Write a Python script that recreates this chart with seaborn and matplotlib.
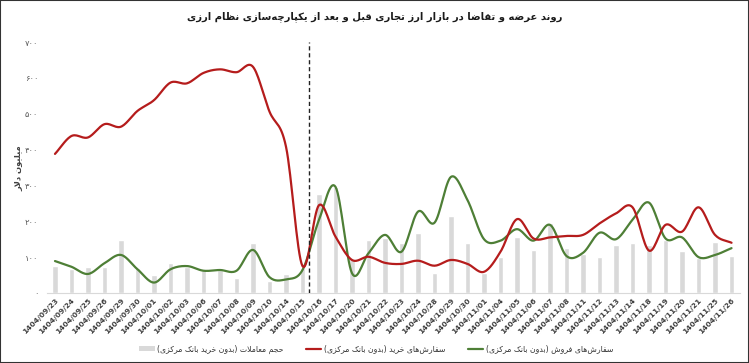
import numpy as np
import pandas as pd
import matplotlib
matplotlib.use("Agg")
import matplotlib.pyplot as plt
import seaborn as sns
from matplotlib.lines import Line2D
from matplotlib.patches import Patch, Rectangle

# ---------------- data ----------------
dates = ["1404/09/23", "1404/09/24", "1404/09/25", "1404/09/26", "1404/09/29", "1404/09/30",
         "1404/10/01", "1404/10/02", "1404/10/03", "1404/10/06", "1404/10/07", "1404/10/08",
         "1404/10/09", "1404/10/10", "1404/10/14", "1404/10/15", "1404/10/16", "1404/10/17",
         "1404/10/20", "1404/10/21", "1404/10/22", "1404/10/23", "1404/10/24", "1404/10/28",
         "1404/10/29", "1404/10/30", "1404/11/01", "1404/11/04", "1404/11/05", "1404/11/06",
         "1404/11/07", "1404/11/08", "1404/11/11", "1404/11/12", "1404/11/13", "1404/11/14",
         "1404/11/18", "1404/11/19", "1404/11/20", "1404/11/21", "1404/11/25", "1404/11/26"]

volume = [75, 67, 72, 73, 148, 69, 50, 83, 73, 64, 64, 41, 139, 32, 53, 70, 276, 296,
          95, 147, 152, 140, 168, 55, 215, 139, 55, 100, 155, 120, 196, 125, 110, 101,
          134, 140, 134, 149, 118, 98, 142, 104]

buy = [388, 438, 434, 471, 464, 508, 538, 587, 585, 614, 624, 616, 631, 506, 408, 75, 245,
       157, 92, 101, 84, 81, 90, 76, 92, 81, 59, 115, 206, 152, 155, 159, 162, 194, 222,
       239, 118, 190, 171, 239, 162, 140]

sell = [89, 73, 53, 83, 106, 66, 29, 66, 75, 62, 64, 62, 120, 44, 38, 64, 204, 296, 55,
        111, 162, 115, 227, 196, 324, 259, 150, 146, 178, 146, 190, 103, 112, 168, 150,
        204, 252, 152, 155, 100, 106, 125]

yticks = [0, 100, 200, 300, 400, 500, 600, 700]
split_pos = 15.4   # integration date marker (between 10/15 and 10/16)

title_txt = "روند عرضه و تقاضا در بازار ارز تجاری قبل و بعد از یکپارچه\u200cسازی نظام ارزی"
ylabel_txt = "میلیون دلار"
leg_vol = "حجم معاملات (بدون خرید بانک مرکزی)"
leg_buy = "سفارش\u200cهای خرید (بدون بانک مرکزی)"
leg_sell = "سفارش\u200cهای فروش (بدون بانک مرکزی)"

# ---------------- Persian shaping helper ----------------
FORMS = {  # isolated, final, initial, medial
    "\u0627": ("\uFE8D", "\uFE8E", None, None),
    "\u0628": ("\uFE8F", "\uFE90", "\uFE91", "\uFE92"),
    "\u062A": ("\uFE95", "\uFE96", "\uFE97", "\uFE98"),
    "\u062B": ("\uFE99", "\uFE9A", "\uFE9B", "\uFE9C"),
    "\u062C": ("\uFE9D", "\uFE9E", "\uFE9F", "\uFEA0"),
    "\u062D": ("\uFEA1", "\uFEA2", "\uFEA3", "\uFEA4"),
    "\u062E": ("\uFEA5", "\uFEA6", "\uFEA7", "\uFEA8"),
    "\u062F": ("\uFEA9", "\uFEAA", None, None),
    "\u0630": ("\uFEAB", "\uFEAC", None, None),
    "\u0631": ("\uFEAD", "\uFEAE", None, None),
    "\u0632": ("\uFEAF", "\uFEB0", None, None),
    "\u0633": ("\uFEB1", "\uFEB2", "\uFEB3", "\uFEB4"),
    "\u0634": ("\uFEB5", "\uFEB6", "\uFEB7", "\uFEB8"),
    "\u0635": ("\uFEB9", "\uFEBA", "\uFEBB", "\uFEBC"),
    "\u0636": ("\uFEBD", "\uFEBE", "\uFEBF", "\uFEC0"),
    "\u0637": ("\uFEC1", "\uFEC2", "\uFEC3", "\uFEC4"),
    "\u0638": ("\uFEC5", "\uFEC6", "\uFEC7", "\uFEC8"),
    "\u0639": ("\uFEC9", "\uFECA", "\uFECB", "\uFECC"),
    "\u063A": ("\uFECD", "\uFECE", "\uFECF", "\uFED0"),
    "\u0641": ("\uFED1", "\uFED2", "\uFED3", "\uFED4"),
    "\u0642": ("\uFED5", "\uFED6", "\uFED7", "\uFED8"),
    "\u0644": ("\uFEDD", "\uFEDE", "\uFEDF", "\uFEE0"),
    "\u0645": ("\uFEE1", "\uFEE2", "\uFEE3", "\uFEE4"),
    "\u0646": ("\uFEE5", "\uFEE6", "\uFEE7", "\uFEE8"),
    "\u0647": ("\uFEE9", "\uFEEA", "\uFEEB", "\uFEEC"),
    "\u0648": ("\uFEED", "\uFEEE", None, None),
    "\u067E": ("\uFB56", "\uFB57", "\uFB58", "\uFB59"),
    "\u0686": ("\uFB7A", "\uFB7B", "\uFB7C", "\uFB7D"),
    "\u0698": ("\uFB8A", "\uFB8B", None, None),
    "\u06A9": ("\uFB8E", "\uFB8F", "\uFB90", "\uFB91"),
    "\u06AF": ("\uFB92", "\uFB93", "\uFB94", "\uFB95"),
    "\u06CC": ("\uFBFC", "\uFBFD", "\uFBFE", "\uFBFF"),
}


def fa_shape(text):
    ch = list(text)
    n = len(ch)

    def joins_left(c):
        return c in FORMS and FORMS[c][2] is not None

    out = []
    i = 0
    while i < n:
        c = ch[i]
        prev_j = i > 0 and joins_left(ch[i - 1])
        if c == "\u0644" and i + 1 < n and ch[i + 1] == "\u0627":
            out.append("\uFEFC" if prev_j else "\uFEFB")
            i += 2
            continue
        if c in FORMS:
            iso, fin, ini, med = FORMS[c]
            next_j = joins_left(c) and i + 1 < n and ch[i + 1] in FORMS
            if prev_j and next_j:
                g = med
            elif prev_j:
                g = fin
            elif next_j:
                g = ini
            else:
                g = iso
            out.append(g)
        elif c == "\u200c":
            pass
        else:
            out.append(c)
        i += 1
    swap = {"(": ")", ")": "("}
    return "".join(swap.get(g, g) for g in reversed(out))


def fa_digits(v):
    return str(v).translate(str.maketrans("0123456789", "۰۱۲۳۴۵۶۷۸۹"))


def smooth(vals, k=16):
    y = np.asarray(vals, float)
    p = np.concatenate([[2 * y[0] - y[1]], y, [2 * y[-1] - y[-2]]])
    xs, ys = [], []
    t = np.linspace(0, 1, k, endpoint=False)
    for i in range(len(y) - 1):
        p0, p1, p2, p3 = p[i], p[i + 1], p[i + 2], p[i + 3]
        seg = 0.5 * (2 * p1 + (-p0 + p2) * t + (2 * p0 - 5 * p1 + 4 * p2 - p3) * t ** 2
                     + (-p0 + 3 * p1 - 3 * p2 + p3) * t ** 3)
        xs.extend(i + t)
        ys.extend(seg)
    xs.append(len(y) - 1)
    ys.append(y[-1])
    return np.array(xs), np.array(ys)


# ---------------- plot ----------------
sns.set_theme(style="white")
plt.rcParams["font.family"] = ["DejaVu Sans"]

RED = "#B51C1C"
GREEN = "#4E7F36"
GRAY = "#D9D9D9"

fig = plt.figure(figsize=(7.49, 3.63), dpi=100)
ax = fig.add_axes([0.0624, 0.193, 0.9253, 0.691])

df = pd.DataFrame({"date": dates, "volume": volume})
sns.barplot(data=df, x="date", y="volume", color=GRAY, saturation=1, width=0.33, ax=ax)

bx, by = smooth(buy)
sx, sy = smooth(sell)
ax.plot(bx, by, color=RED, lw=1.6, solid_capstyle="round", zorder=4)
ax.plot(sx, sy, color=GREEN, lw=1.6, solid_capstyle="round", zorder=3)

ax.axvline(split_pos, ymin=0, ymax=1.0, color="#222222", lw=1.0, ls=(0, (3, 2)), zorder=5)

ax.set_xlim(-0.5, len(dates) - 0.5)
ax.set_ylim(0, 700)
ax.set_xlabel("")
ax.set_ylabel("")
ax.set_xticks(range(len(dates)))
ax.set_xticklabels(dates, rotation=45, ha="right", rotation_mode="anchor",
                   fontsize=5.4, fontweight="bold", color="#404040")
ax.set_yticks(yticks)
ax.set_yticklabels([fa_digits(v) for v in yticks], fontsize=6, color="#595959")
ax.tick_params(axis="both", length=0)
ax.tick_params(axis="x", pad=3)
ax.tick_params(axis="y", pad=6)
for s in ["top", "right", "left"]:
    ax.spines[s].set_visible(False)
ax.spines["bottom"].set_color("#D9D9D9")
ax.spines["bottom"].set_linewidth(0.8)

fig.text(0.5, 1 - 17 / 363, fa_shape(title_txt), ha="center", va="center",
         fontsize=7.2, fontweight="bold", color="#1a1a1a")
fig.text(19 / 749, 1 - 168 / 363, fa_shape(ylabel_txt), rotation=90, ha="center",
         va="center", fontsize=6, fontweight="bold", color="#404040")

handles = [Patch(facecolor=GRAY, edgecolor="none"),
           Line2D([0], [0], color=RED, lw=1.6),
           Line2D([0], [0], color=GREEN, lw=1.6)]
labels = [fa_shape(leg_vol), fa_shape(leg_buy), fa_shape(leg_sell)]
fig.legend(handles, labels, loc="center", bbox_to_anchor=(376 / 749, 1 - 349 / 363),
           ncol=3, frameon=False, fontsize=5.6, handlelength=2.0, handleheight=0.6,
           columnspacing=2.9, handletextpad=0.3, labelcolor="#333333")

fig.patches.append(Rectangle((0, 0), 1, 1, transform=fig.transFigure, fill=False,
                             edgecolor="#333333", lw=1.5, zorder=10))

fig.savefig("out.png", dpi=100)
